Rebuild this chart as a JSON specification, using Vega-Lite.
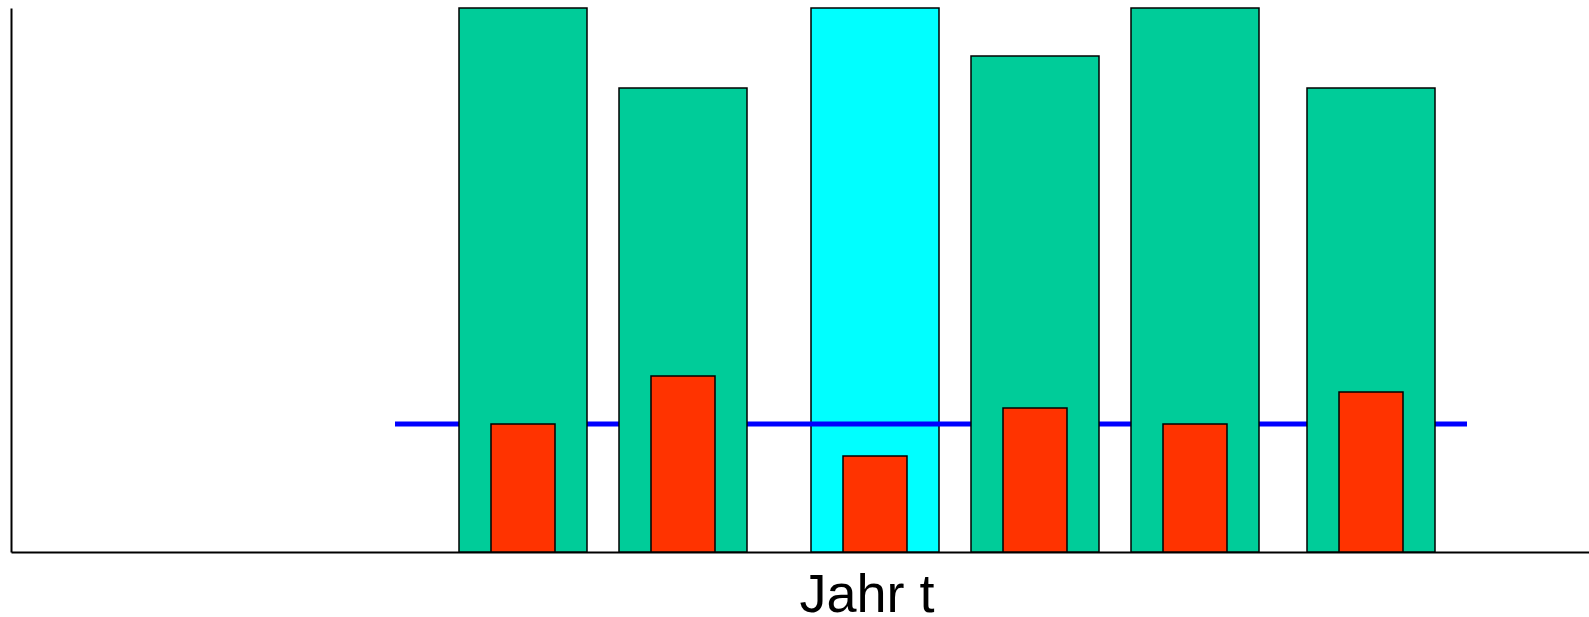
{
  "$schema": "https://vega.github.io/schema/vega-lite/v6.json",
  "width": 1578,
  "height": 544,
  "padding": {"left": 11, "top": 8, "right": 0, "bottom": 65},
  "autosize": {"type": "none"},
  "background": "white",
  "config": {
    "view": {"stroke": null},
    "axis": {"domainColor": "black", "domainWidth": 2, "ticks": false, "labels": false, "grid": false}
  },
  "datasets": {
    "bars": [
      {"serie": "gruen", "start": 28, "end": 36, "wert": 34},
      {"serie": "gruen", "start": 38, "end": 46, "wert": 29},
      {"serie": "cyan", "start": 50, "end": 58, "wert": 34},
      {"serie": "gruen", "start": 60, "end": 68, "wert": 31},
      {"serie": "gruen", "start": 70, "end": 78, "wert": 34},
      {"serie": "gruen", "start": 81, "end": 89, "wert": 29},
      {"serie": "rot", "start": 30, "end": 34, "wert": 8},
      {"serie": "rot", "start": 40, "end": 44, "wert": 11},
      {"serie": "rot", "start": 52, "end": 56, "wert": 6},
      {"serie": "rot", "start": 62, "end": 66, "wert": 9},
      {"serie": "rot", "start": 72, "end": 76, "wert": 8},
      {"serie": "rot", "start": 83, "end": 87, "wert": 10}
    ],
    "linie": [
      {"start": 24, "end": 91, "wert": 8}
    ]
  },
  "layer": [
    {
      "data": {"name": "bars"},
      "transform": [{"filter": "datum.serie === 'cyan'"}],
      "mark": {"type": "rect", "stroke": "black", "strokeWidth": 1.5},
      "encoding": {
        "x": {"field": "start", "type": "quantitative", "scale": {"domain": [0, 98.625], "nice": false, "zero": false},
              "axis": {"title": "Jahr t", "titleFont": "Liberation Sans", "titleFontSize": 54, "titleFontWeight": "normal", "titleColor": "black", "titleX": 855.5, "titleY": 59, "titleBaseline": "alphabetic", "titleAlign": "center"}},
        "x2": {"field": "end"},
        "y": {"field": "wert", "type": "quantitative", "scale": {"domain": [0, 34], "nice": false}, "axis": {"title": null}},
        "y2": {"datum": 0},
        "color": {"field": "serie", "type": "nominal", "scale": {"domain": ["gruen", "cyan", "rot"], "range": ["#00CC99", "#00FFFF", "#FF3300"]}, "legend": null}
      }
    },
    {
      "data": {"name": "linie"},
      "mark": {"type": "rule", "color": "#0000FF", "strokeWidth": 5},
      "encoding": {
        "x": {"field": "start", "type": "quantitative"},
        "x2": {"field": "end"},
        "y": {"field": "wert", "type": "quantitative"}
      }
    },
    {
      "data": {"name": "bars"},
      "transform": [{"filter": "datum.serie !== 'cyan'"}],
      "mark": {"type": "rect", "stroke": "black", "strokeWidth": 1.5},
      "encoding": {
        "x": {"field": "start", "type": "quantitative"},
        "x2": {"field": "end"},
        "y": {"field": "wert", "type": "quantitative"},
        "y2": {"datum": 0},
        "color": {"field": "serie", "type": "nominal", "legend": null},
        "order": {"field": "wert", "sort": "descending"}
      }
    }
  ]
}
